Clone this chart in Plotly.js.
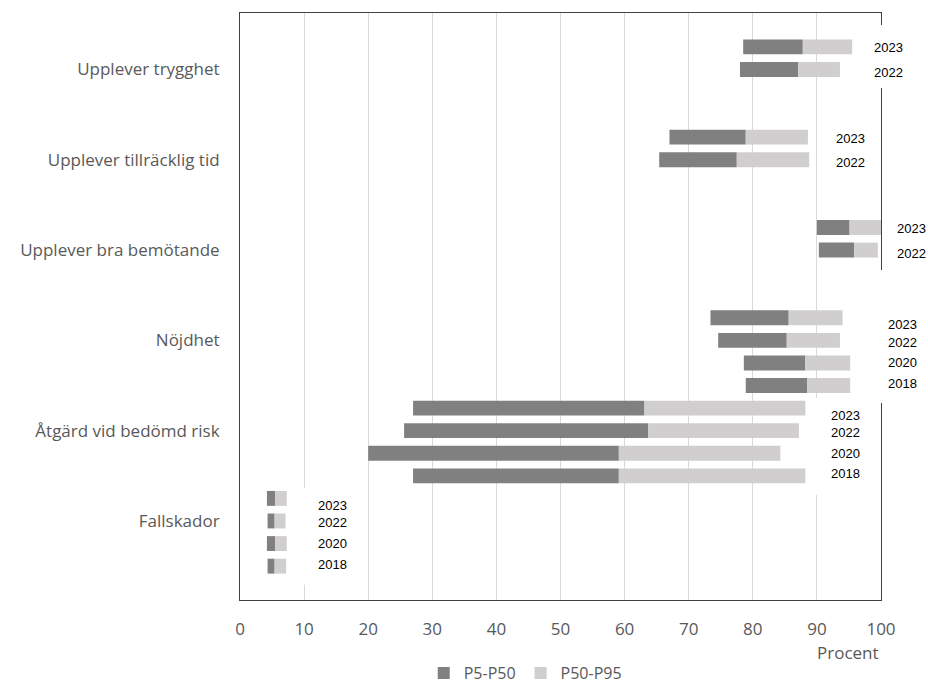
<!DOCTYPE html>
<html>
<head>
<meta charset="utf-8">
<script src="https://cdn.plot.ly/plotly-3.0.1.min.js"></script>
<style>html,body{margin:0;padding:0;background:#fff;}</style>
</head>
<body>
<div id="chart" style="width:928px;height:684px;"></div>
<script>
// ---- data ----
const categories = ['Upplever trygghet', 'Upplever tillräcklig tid', 'Upplever bra bemötande', 'Nöjdhet', 'Åtgärd vid bedömd risk', 'Fallskador'];
const rowsPerCategory = [2, 2, 2, 4, 4, 4];
const rowYears = ['2023','2022', '2023','2022', '2023','2022', '2023','2022','2020','2018', '2023','2022','2020','2018', '2023','2022','2020','2018'];
const p5  = [78.5, 78.0, 67.0, 65.4, 90.0, 90.3, 73.4, 74.6, 78.6, 78.9, 27.0, 25.6, 20.0, 27.0, 4.2, 4.3, 4.2, 4.3];
const p50 = [87.8, 87.1, 78.9, 77.5, 95.1, 95.8, 85.6, 85.3, 88.2, 88.5, 63.1, 63.7, 59.1, 59.1, 5.5, 5.4, 5.5, 5.4];
const p95 = [95.5, 93.6, 88.6, 88.8, 100.0, 99.5, 94.0, 93.6, 95.2, 95.2, 88.2, 87.2, 84.3, 88.2, 7.3, 7.1, 7.3, 7.2];
const seriesNames = ['P5-P50', 'P50-P95'];

// ---- layout helpers (positions / styles) ----
const SLOTS = 26;               // category blocks of 4 slots + top/bottom padding
const labelColumnX = [101.1, 95.2, 104.7, 103.4, 94.4, 14.5];   // year-label column per category (x units)
const labelShift2 = [-1, -3];
const labelShift4 = [-7, -2, 0, 2];
const maskBoxes = [ // [x0, x1, slot0, slot1] white label boxes
  [96.4, 106.4, 0.03, 2.82],
  [99.1, 107.6, 10.88, 16.77],
  [89.2, 99.5, 16.55, 20.85],
  [9.4, 19.5, 20.54, 24.83]
];

const rowSlot = [], rowGroup = [], rowIdx = [];
rowsPerCategory.forEach((n, g) => {
  for (let i = 0; i < n; i++) { rowSlot.push(4 * g + 1 + i); rowGroup.push(g); rowIdx.push(i); }
});
const catSlots = categories.map((c, g) => 4 * g + 2);

const darkC = '#808080', lightC = '#d0cece';
const txtC = '#595959';
const fontMain = 'Open Sans, Lato, sans-serif';

const traces = [
  { type: 'bar', orientation: 'h', name: seriesNames[0], y: rowSlot,
    x: p50.map((v, i) => +(v - p5[i]).toFixed(2)), base: p5, width: 0.66,
    marker: { color: darkC, line: { width: 0 } }, hoverinfo: 'skip' },
  { type: 'bar', orientation: 'h', name: seriesNames[1], y: rowSlot,
    x: p95.map((v, i) => +(v - p50[i]).toFixed(2)), base: p50, width: 0.66,
    marker: { color: lightC, line: { width: 0 } }, hoverinfo: 'skip' }
];

const slotFrac = s => (SLOTS - 0.5 - s) / SLOTS;
const shapes = maskBoxes.map(b => ({
  type: 'rect', xref: 'x domain', yref: 'y domain', layer: 'above',
  x0: b[0] / 100, x1: b[1] / 100, y0: slotFrac(b[3]), y1: slotFrac(b[2]),
  fillcolor: '#ffffff', line: { width: 0 }
}));

const annotations = rowYears.map((yr, i) => {
  const g = rowGroup[i];
  const sh = rowsPerCategory[g] === 4 ? labelShift4[rowIdx[i]] : labelShift2[rowIdx[i]];
  return { xref: 'x domain', yref: 'y domain', x: labelColumnX[g] / 100, y: slotFrac(rowSlot[i]), text: yr, showarrow: false,
    xanchor: 'center', yanchor: 'middle', yshift: sh,
    font: { family: 'Liberation Sans, Arial, sans-serif', size: 13, color: '#000000' } };
});
annotations.push({ xref: 'paper', yref: 'paper', x: 1, y: -0.0886, xanchor: 'right', yanchor: 'middle',
  text: 'Procent', showarrow: false, font: { family: fontMain, size: 17, color: txtC } });

const layout = {
  width: 928, height: 684,
  margin: { l: 240, r: 47, t: 13, b: 84, pad: 0, autoexpand: false },
  paper_bgcolor: '#ffffff', plot_bgcolor: '#ffffff',
  barmode: 'overlay',
  showlegend: true,
  legend: { orientation: 'h', x: 0.445, xanchor: 'center', y: -0.1244, yanchor: 'middle',
    font: { family: fontMain, size: 16, color: txtC }, traceorder: 'normal', itemwidth: 30 },
  xaxis: { range: [0, 100], tick0: 0, dtick: 10, showgrid: true, gridcolor: '#d9d9d9', gridwidth: 1,
    zeroline: false, showline: true, mirror: true, linecolor: '#404040', linewidth: 1,
    ticks: '', ticklabelstandoff: 14, tickfont: { family: fontMain, size: 17, color: txtC }, fixedrange: true },
  yaxis: { range: [SLOTS - 0.5, -0.5], tickmode: 'array', tickvals: catSlots, ticktext: categories,
    showgrid: false, zeroline: false, showline: true, mirror: true, linecolor: '#404040', linewidth: 1,
    ticks: '', ticklabelstandoff: 16, tickfont: { family: fontMain, size: 17, color: txtC }, fixedrange: true },
  shapes: shapes,
  annotations: annotations
};

Plotly.newPlot('chart', traces, layout, { displayModeBar: false, staticPlot: true });
</script>
</body>
</html>
